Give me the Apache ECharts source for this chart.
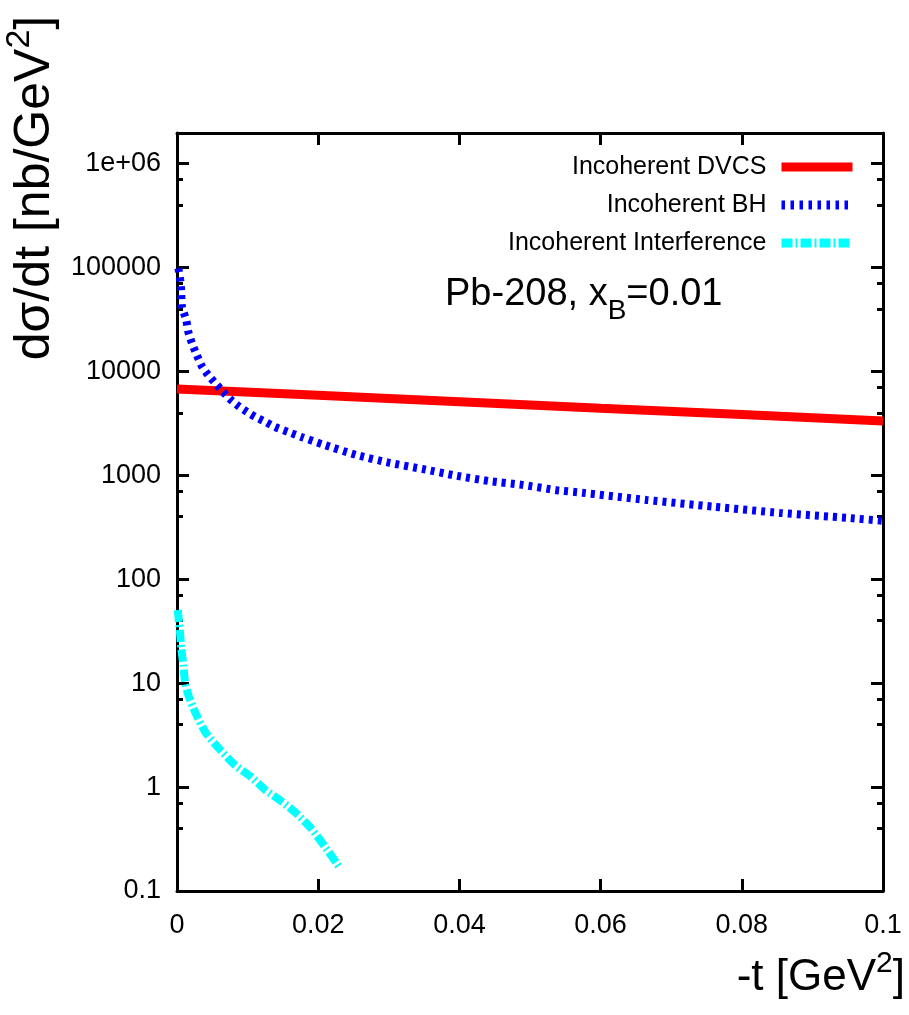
<!DOCTYPE html>
<html>
<head>
<meta charset="utf-8">
<script src="https://cdn.jsdelivr.net/npm/echarts@6/dist/echarts.min.js"></script>
<style>
  html, body { margin: 0; padding: 0; background: #fff; }
  #chart { width: 909px; height: 1015px; }
</style>
</head>
<body>
<div id="chart"></div>
<script>
// -t values [GeV^2] and cross sections [nb/GeV^2]
var tDvcs = [0, 0.02, 0.04, 0.06, 0.08, 0.1];
var dvcs  = [6790, 5890, 5110, 4430, 3850, 3340];

var tBh = [0.0002, 0.0005, 0.0006, 0.0007, 0.0013, 0.0016, 0.0021, 0.0028, 0.0035, 0.0044,
           0.0054, 0.0064, 0.0075, 0.0087, 0.0099, 0.0111, 0.0125, 0.0139, 0.0157, 0.0177,
           0.0206, 0.0254, 0.0301, 0.0348, 0.0396, 0.0443, 0.0489, 0.0538, 0.0574, 0.0665,
           0.0759, 0.0854, 0.0949, 0.1];
var bh  = [98000, 72000, 57000, 41800, 31300, 24000, 18800, 14400, 11300, 9250,
           7750, 6490, 5430, 4650, 4080, 3650, 3270, 2920, 2620, 2330,
           1990, 1570, 1320, 1150, 990, 880, 810, 720, 680, 580,
           500, 435, 390, 365];

var tInt = [0.0001, 0.0004, 0.0006, 0.0009, 0.0011, 0.0016, 0.0026, 0.004, 0.006, 0.0082,
            0.0105, 0.0125, 0.0148, 0.017, 0.019, 0.0209, 0.023];
var inter = [50.6, 32.5, 21.8, 15.0, 10.7, 7.7, 5.2, 3.39, 2.33, 1.63,
             1.25, 0.94, 0.73, 0.55, 0.40, 0.27, 0.17];

var names = ['Incoherent DVCS', 'Incoherent BH', 'Incoherent Interference'];
var colors = ['#ff0000', '#0000ff', '#00ffff'];

function pairs(xs, ys) {
  return xs.map(function (x, i) { return [x, ys[i]]; });
}

var font = "'Liberation Sans', Arial, sans-serif";

function logLabel(v) {
  var e = Math.log10(v);
  var r = Math.round(e);
  if (Math.abs(e - r) > 1e-6) return '';
  if (r >= 6) return '1e+0' + r;
  if (r < 0) return Math.pow(10, r).toFixed(-r);
  return String(Math.round(Math.pow(10, r)));
}

var myChart = echarts.init(document.getElementById('chart'));

var frame = { show: true, onZero: false, lineStyle: { color: '#000', width: 3 } };
var majorTick = { show: true, inside: true, length: 12, lineStyle: { color: '#000', width: 3 } };
var minorTick = { show: true, splitNumber: 3, length: 6, lineStyle: { color: '#000', width: 3 } };

var option = {
  backgroundColor: '#fff',
  animation: false,
  title: {
    text: '{a|Pb-208, x}{b|B}{a|=0.01}',
    left: 445,
    top: 265,
    padding: 0,
    textStyle: {
      rich: {
        a: { fontFamily: font, fontSize: 38, fontWeight: 'normal', color: '#000', lineHeight: 60, verticalAlign: 'middle' },
        b: { fontFamily: font, fontSize: 28, fontWeight: 'normal', color: '#000', lineHeight: 60, verticalAlign: 'bottom' }
      }
    }
  },
  legend: {
    orient: 'vertical',
    right: 47,
    top: 147,
    align: 'right',
    itemWidth: 71,
    itemHeight: 14,
    itemGap: 8,
    textStyle: { fontFamily: font, fontSize: 25, color: '#000', lineHeight: 30, padding: [0, 10, 0, 0] },
    data: [
      { name: names[0], itemStyle: { opacity: 0 }, lineStyle: { color: colors[0], width: 9, type: 'solid' } },
      { name: names[1], itemStyle: { opacity: 0 }, lineStyle: { color: colors[1], width: 9, type: [3.5, 5.5] } },
      { name: names[2], itemStyle: { opacity: 0 }, lineStyle: { color: colors[2], width: 9, type: [11, 3, 2, 3] } }
    ]
  },
  grid: { left: 177, top: 133, right: 26, bottom: 124, outerBoundsMode: 'none' },
  xAxis: [{
    type: 'value',
    min: 0, max: 0.1, interval: 0.02,
    name: '{a|-t [GeV}{s|2}{a|]}',
    nameLocation: 'end',
    nameGap: 22,
    nameTextStyle: {
      align: 'right',
      verticalAlign: 'top',
      padding: [58, 0, 0, 0],
      rich: {
        a: { fontFamily: font, fontSize: 44, color: '#000', lineHeight: 58, verticalAlign: 'middle' },
        s: { fontFamily: font, fontSize: 30, color: '#000', lineHeight: 58, verticalAlign: 'top' }
      }
    },
    axisLine: frame,
    axisTick: majorTick,
    splitLine: { show: false },
    axisLabel: { fontFamily: font, fontSize: 27, color: '#000', margin: 21 }
  }, {
    type: 'value',
    position: 'top',
    min: 0, max: 0.1, interval: 0.02,
    axisLine: frame,
    axisTick: majorTick,
    splitLine: { show: false },
    axisLabel: { show: false }
  }],
  yAxis: [{
    type: 'log',
    min: 0.1, max: 1.97e6, interval: 1,
    name: '{a|dσ/dt [nb/GeV}{s|2}{a|]}',
    nameLocation: 'middle',
    nameRotate: 90,
    nameGap: 123,
    nameTextStyle: {
      align: 'center',
      verticalAlign: 'middle',
      padding: [0, 0, 0, 648],
      rich: {
        a: { fontFamily: font, fontSize: 50, color: '#000', lineHeight: 64, verticalAlign: 'middle' },
        s: { fontFamily: font, fontSize: 34, color: '#000', lineHeight: 64, verticalAlign: 'top' }
      }
    },
    axisLine: frame,
    axisTick: majorTick,
    minorTick: minorTick,
    splitLine: { show: false },
    minorSplitLine: { show: false },
    axisLabel: { fontFamily: font, fontSize: 27, color: '#000', margin: 16, formatter: logLabel }
  }, {
    type: 'log',
    position: 'right',
    min: 0.1, max: 1.97e6, interval: 1,
    axisLine: frame,
    axisTick: majorTick,
    minorTick: minorTick,
    splitLine: { show: false },
    minorSplitLine: { show: false },
    axisLabel: { show: false }
  }],
  series: [{
    name: names[0],
    type: 'line',
    data: pairs(tDvcs, dvcs),
    showSymbol: false, symbol: 'none',
    color: colors[0],
    lineStyle: { color: colors[0], width: 9 }
  }, {
    name: names[1],
    type: 'line',
    data: pairs(tBh, bh),
    showSymbol: false, symbol: 'none',
    smooth: 0.2,
    color: colors[1],
    lineStyle: { color: colors[1], width: 8, type: [4, 5] }
  }, {
    name: names[2],
    type: 'line',
    data: pairs(tInt, inter),
    showSymbol: false, symbol: 'none',
    smooth: 0.2,
    color: colors[2],
    lineStyle: { color: colors[2], width: 8, type: [12, 3, 2, 3] }
  }]
};

myChart.setOption(option);
</script>
</body>
</html>
